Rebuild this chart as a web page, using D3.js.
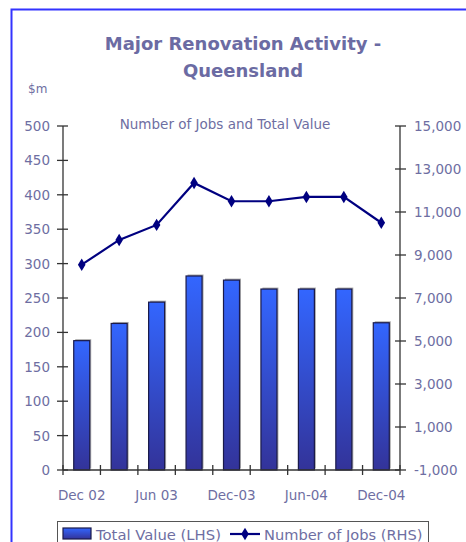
<!DOCTYPE html>
<html><head><meta charset="utf-8">
<script src="https://cdn.jsdelivr.net/npm/d3@7"></script>
<style>
html,body{margin:0;padding:0;background:#fff;overflow:hidden;}
svg{display:block;}
</style></head>
<body>
<svg id="c" width="466" height="542"></svg>
<script>
const categories = ["Dec 02","Mar 03","Jun 03","Sep 03","Dec-03","Mar-04","Jun-04","Sep-04","Dec-04"];
const categoryLabels = ["Dec 02","","Jun 03","","Dec-03","","Jun-04","","Dec-04"];
const totalValue = [188, 213, 244, 282, 276, 263, 263, 263, 214];
const numberOfJobs = [8550, 9700, 10400, 12350, 11500, 11500, 11700, 11700, 10500];
const leftTicks = [0,50,100,150,200,250,300,350,400,450,500];
const rightTicks = [-1000,1000,3000,5000,7000,9000,11000,13000,15000];

const svg = d3.select("#c");
const txt = "#6e6ea2";
const font = "DejaVu Sans, Verdana, sans-serif";

// border
svg.append("path").attr("d","M11.5,542 V9.5 H466").attr("fill","none").attr("stroke","#3333ff").attr("stroke-width",2);

const x0 = 63, x1 = 400, yTop = 126, yBot = 470;
const x = d3.scaleBand().domain(categories).range([x0, x1]).paddingInner(0).paddingOuter(0);
const yL = d3.scaleLinear().domain([0,500]).range([yBot, yTop]);
const yR = d3.scaleLinear().domain([-1000,15000]).range([yBot, yTop]);

// gradient
const defs = svg.append("defs");
const g = defs.append("linearGradient").attr("id","bg").attr("x1",0).attr("y1",0).attr("x2",0).attr("y2",1);
g.append("stop").attr("offset","0%").attr("stop-color","#3366ff");
g.append("stop").attr("offset","100%").attr("stop-color","#333399");

// title
svg.append("text").attr("x",243).attr("y",50).attr("text-anchor","middle")
  .attr("font-family",font).attr("font-weight","bold").attr("font-size",18).attr("fill","#6b6ba3")
  .text("Major Renovation Activity -");
svg.append("text").attr("x",243).attr("y",77).attr("text-anchor","middle")
  .attr("font-family",font).attr("font-weight","bold").attr("font-size",18).attr("fill","#6b6ba3")
  .text("Queensland");
svg.append("text").attr("x",28).attr("y",93).attr("font-family",font).attr("font-size",12).attr("fill",txt).text("$m");
svg.append("text").attr("x",225).attr("y",129).attr("text-anchor","middle").attr("font-family",font).attr("font-size",13.5).attr("fill",txt).text("Number of Jobs and Total Value");

// bars
const bw = 16;
const bars = svg.append("g");
bars.selectAll("rect.sh").data(totalValue).join("rect").attr("class","sh")
  .attr("x",(d,i)=>x(categories[i])+x.bandwidth()/2-bw/2+1.5)
  .attr("y",d=>yL(d)-1.5).attr("width",bw).attr("height",d=>yBot-yL(d))
  .attr("fill","#aaaaaa");
bars.selectAll("rect.b").data(totalValue).join("rect").attr("class","b")
  .attr("x",(d,i)=>x(categories[i])+x.bandwidth()/2-bw/2)
  .attr("y",d=>yL(d)).attr("width",bw).attr("height",d=>yBot-yL(d))
  .attr("fill","url(#bg)").attr("stroke","#1a1a4a").attr("stroke-width",1.2);

// axes
const axCol = "#333";
const ga = svg.append("g").attr("stroke",axCol).attr("stroke-width",1.3);
ga.append("line").attr("x1",x0).attr("x2",x0).attr("y1",yTop).attr("y2",yBot);
ga.append("line").attr("x1",x1).attr("x2",x1).attr("y1",yTop).attr("y2",yBot);
ga.append("line").attr("x1",x0).attr("x2",x1).attr("y1",yBot).attr("y2",yBot);
ga.selectAll("line.lt").data(leftTicks).join("line").attr("class","lt")
  .attr("x1",x0-6).attr("x2",x0+5).attr("y1",d=>yL(d)).attr("y2",d=>yL(d));
ga.selectAll("line.rt").data(rightTicks).join("line").attr("class","rt")
  .attr("x1",x1-5).attr("x2",x1+6).attr("y1",d=>yR(d)).attr("y2",d=>yR(d));
const bounds = categories.map(c=>x(c)).concat([x1]);
ga.selectAll("line.xt").data(bounds).join("line").attr("class","xt")
  .attr("x1",d=>d).attr("x2",d=>d).attr("y1",yBot-5).attr("y2",yBot+5);

svg.append("g").selectAll("text").data(leftTicks).join("text")
  .attr("x",50).attr("y",d=>yL(d)+5).attr("text-anchor","end")
  .attr("font-family",font).attr("font-size",13.5).attr("fill",txt).text(d=>d);
const fmt = d3.format(",");
svg.append("g").selectAll("text").data(rightTicks).join("text")
  .attr("x",414).attr("y",d=>yR(d)+5).attr("text-anchor","start")
  .attr("font-family",font).attr("font-size",13.5).attr("fill",txt).text(d=>fmt(d).replace("\u2212","-"));
svg.append("g").selectAll("text").data(categories).join("text")
  .attr("x",d=>x(d)+x.bandwidth()/2).attr("y",500).attr("text-anchor","middle")
  .attr("font-family",font).attr("font-size",13.5).attr("fill",txt).text((d,i)=>categoryLabels[i]);

// line
const line = d3.line().x((d,i)=>x(categories[i])+x.bandwidth()/2).y(d=>yR(d));
svg.append("path").datum(numberOfJobs).attr("d",line).attr("fill","none").attr("stroke","#000080").attr("stroke-width",2.2);
const sym = d3.symbol().type(d3.symbolDiamond).size(55);
svg.append("g").selectAll("path").data(numberOfJobs).join("path")
  .attr("transform",(d,i)=>`translate(${x(categories[i])+x.bandwidth()/2},${yR(d)}) scale(0.95,0.9)`)
  .attr("d",sym).attr("fill","#000080");

// legend
const lg = svg.append("g");
lg.append("rect").attr("x",57.5).attr("y",521.5).attr("width",371).attr("height",40).attr("fill","#fff").attr("stroke","#555").attr("stroke-width",1);
lg.append("rect").attr("x",63).attr("y",528).attr("width",28).attr("height",11).attr("fill","url(#bg)").attr("stroke","#1a1a4a").attr("stroke-width",1.2);
lg.append("text").attr("x",96).attr("y",540).attr("font-family",font).attr("font-size",14.8).attr("fill",txt).text("Total Value (LHS)");
lg.append("line").attr("x1",230).attr("x2",260).attr("y1",534).attr("y2",534).attr("stroke","#000080").attr("stroke-width",2.2);
lg.append("path").attr("transform","translate(245,534) scale(0.95,0.9)").attr("d",sym).attr("fill","#000080");
lg.append("text").attr("x",264).attr("y",540).attr("font-family",font).attr("font-size",14.6).attr("fill",txt).text("Number of Jobs (RHS)");
</script>
</body></html>
